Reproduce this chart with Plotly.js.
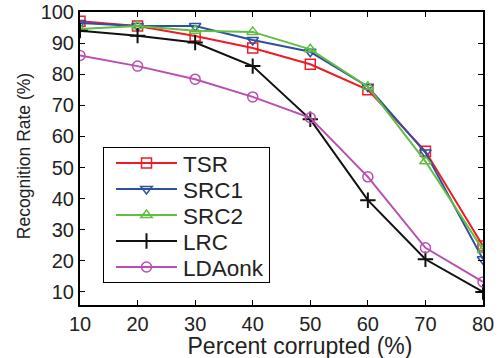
<!DOCTYPE html>
<html><head><meta charset="utf-8">
<script src="https://cdn.plot.ly/plotly-3.0.1.min.js"></script>
<style>html,body{margin:0;padding:0;background:#fff}#c{width:502px;height:358px}</style>
</head><body><div id="c"></div>
<script>
const xCorrupt = [10, 20, 30, 40, 50, 60, 70, 80];
const tsr    = [97, 95.5, 92.3, 88.4, 83.2, 75, 55.2, 24.8];
const src1   = [96.5, 95.5, 95.5, 91, 87.2, 76, 54.8, 20.5];
const src2   = [94.5, 95.5, 94, 93.6, 88, 76, 52, 23.5];
const lrc    = [94, 92.4, 90.2, 82.6, 65.5, 39.5, 20.5, 10];
const ldaonk = [86, 82.6, 78.4, 72.7, 66, 47, 24.2, 13.2];
const xTicks = [10, 20, 30, 40, 50, 60, 70, 80];
const yTicks = [10, 20, 30, 40, 50, 60, 70, 80, 90, 100];

function tr(name, y, color, symbol) {
  const cross = symbol === 'cross-thin-open';
  return {x: xCorrupt, y: y, name: name, type: 'scatter', mode: 'lines+markers',
    line: {color: color, width: 2},
    marker: {symbol: symbol, size: cross ? 11 : 10, color: color,
             line: {color: color, width: cross ? 2 : 1.5}}};
}
const data = [
  tr('TSR', tsr, '#ee1c24', 'square-open'),
  tr('SRC1', src1, '#2f4fa3', 'triangle-down-open'),
  tr('SRC2', src2, '#60bf40', 'triangle-up-open'),
  tr('LRC', lrc, '#111111', 'cross-thin-open'),
  tr('LDAonk', ldaonk, '#b94fb0', 'circle-open')
];
const FONT = 'Liberation Sans, Arial, sans-serif';
const axisCommon = {showgrid: false, zeroline: false, showline: true, linecolor: '#000', linewidth: 2,
  mirror: 'ticks', ticks: 'inside', ticklen: 5, tickwidth: 1, tickcolor: '#000',
  tickfont: {family: FONT, size: 20, color: '#222'}};
const layout = {
  width: 502, height: 358,
  margin: {l: 80, r: 19, t: 12, b: 53},
  paper_bgcolor: '#fff', plot_bgcolor: '#fff',
  showlegend: true,
  font: {family: FONT, color: '#222'},
  xaxis: Object.assign({}, axisCommon, {range: [10, 80], tickvals: xTicks,
    title: {text: 'Percent corrupted (%)', font: {size: 23, color: '#222'}, standoff: 0}}),
  yaxis: Object.assign({}, axisCommon, {range: [5.8, 100], tickvals: yTicks,
    title: {text: 'Recognition Rate (%)', font: {size: 17.5, color: '#222'}, standoff: 6}}),
  legend: {x: 0.057, y: 0.54, xanchor: 'left', yanchor: 'top', bgcolor: '#fff',
    bordercolor: '#000', borderwidth: 1, font: {size: 22.5, color: '#222'},
    tracegroupgap: 0, itemwidth: 62}
};
Plotly.newPlot('c', data, layout, {displayModeBar: false, staticPlot: true}).then(function (gd) {
  // legend geometry like the reference (compact rows, long sample lines)
  const leg = gd.querySelector('.legend');
  if (leg) {
    leg.setAttribute('transform', 'translate(103,147)');
    const bg = leg.querySelector('rect.bg');
    if (bg) { bg.setAttribute('x', 0.5); bg.setAttribute('y', 0.5); bg.setAttribute('width', 166); bg.setAttribute('height', 135); }
    const sb = leg.querySelector('.scrollbox');
    if (sb) sb.setAttribute('transform', 'translate(0,0)');
    leg.querySelectorAll('.traces').forEach(function (t, i) {
      t.setAttribute('transform', 'translate(0,' + (16 + 26 * i) + ')');
      const lp = t.querySelector('.legendlines path'); if (lp) lp.setAttribute('d', 'M13,0h61');
      t.querySelectorAll('.legendpoints path').forEach(function (p) { p.setAttribute('transform', 'translate(43.5,0)'); });
      const tx = t.querySelector('text.legendtext'); if (tx) tx.setAttribute('x', 80);
    });
  }
  document.querySelectorAll('clipPath[id^="legend"] rect').forEach(function (r) {
    r.setAttribute('x', 0); r.setAttribute('y', 0); r.setAttribute('width', 170); r.setAttribute('height', 140);
  });
  // axis titles placed as in the reference
  const xt = gd.querySelector('.xtitle');
  if (xt) { xt.setAttribute('x', 300); xt.setAttribute('y', 351); xt.removeAttribute('dy'); }
  const yt = gd.querySelector('.ytitle');
  if (yt) {
    yt.setAttribute('x', 30); yt.setAttribute('y', 156); yt.removeAttribute('dy');
    yt.setAttribute('transform', 'rotate(-90,30,156)');
  }
});
</script></body></html>
